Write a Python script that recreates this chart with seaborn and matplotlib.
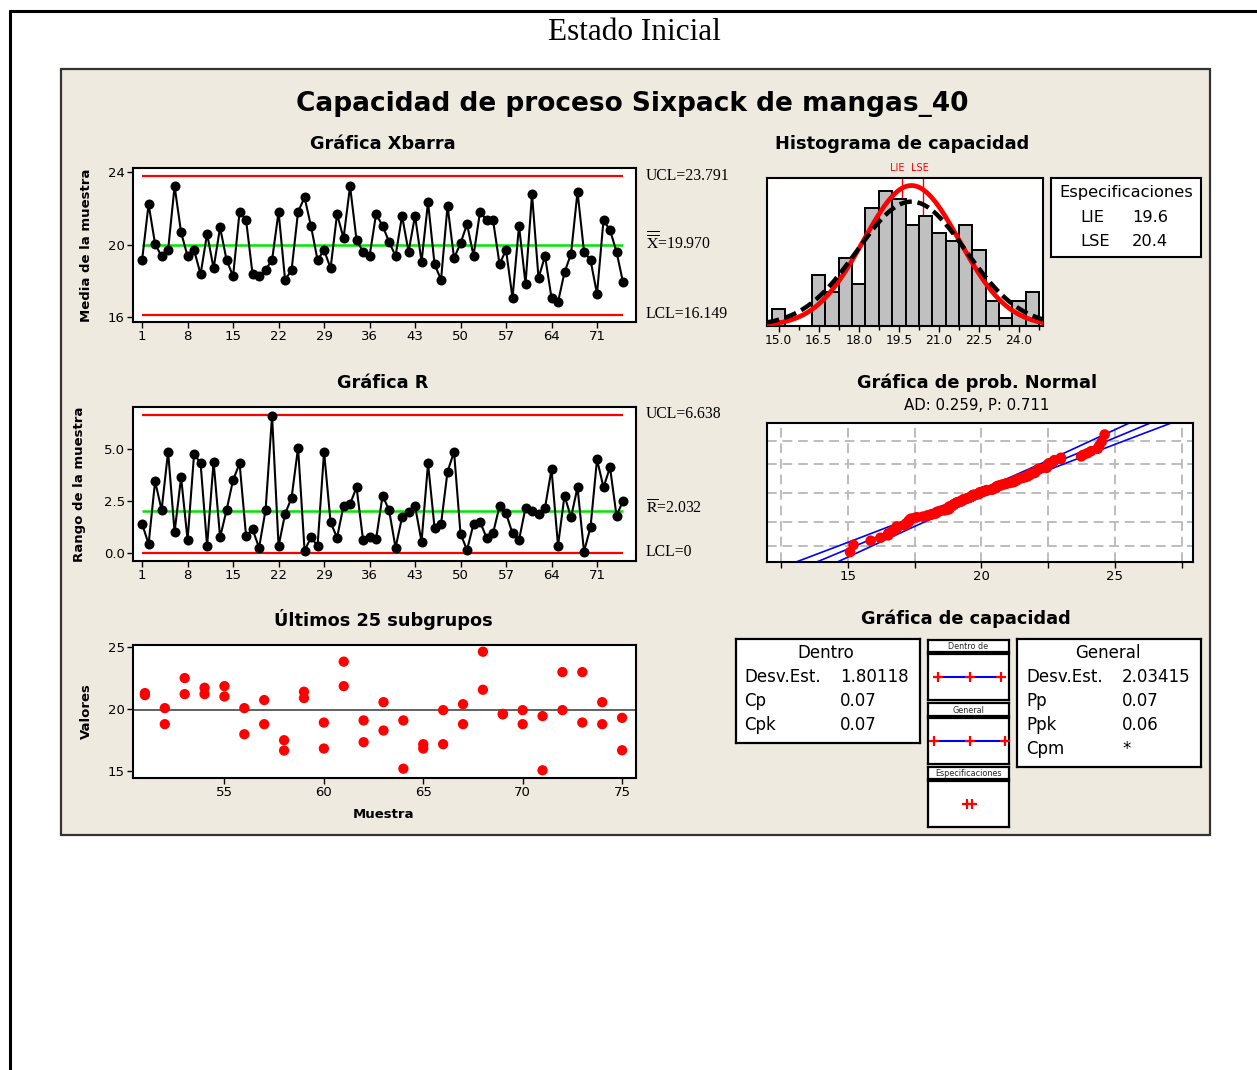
import numpy as np
import pandas as pd
import matplotlib
matplotlib.use("Agg")
import matplotlib.pyplot as plt
import matplotlib.transforms as mtransforms
from matplotlib.patches import Rectangle
from matplotlib.lines import Line2D
import seaborn as sns
from statistics import NormalDist

# ---------------- data ----------------
subgroups = list(range(1, 76))
xbar_means = [19.16, 22.24, 20.04, 19.37, 19.71, 23.23, 20.68, 19.37, 19.71, 18.38,
              20.61, 18.71, 20.96, 19.16, 18.27, 21.82, 21.36, 18.38, 18.27, 18.63,
              19.16, 21.82, 18.07, 18.61, 21.82, 22.61, 21.01, 19.16, 19.71, 18.71,
              21.69, 20.37, 23.23, 20.26, 19.62, 19.37, 21.69, 21.05, 20.17, 19.38,
              21.60, 19.62, 21.60, 19.07, 22.35, 18.94, 18.07, 22.15, 19.27, 20.08,
              21.14, 19.40, 21.82, 21.36, 21.36, 18.94, 19.71, 17.08, 21.05, 17.85,
              22.79, 18.17, 19.38, 17.08, 16.84, 18.49, 19.49, 22.92, 19.62, 19.16,
              17.30, 21.36, 20.81, 19.62, 17.94]
ranges = [1.41, 0.45, 3.46, 2.08, 4.88, 1.02, 3.65, 0.64, 4.78, 4.32,
          0.35, 4.40, 0.77, 2.08, 3.52, 4.32, 0.83, 1.15, 0.27, 2.08,
          6.61, 0.35, 1.89, 2.67, 5.07, 0.13, 0.77, 0.35, 4.88, 1.49,
          0.75, 2.29, 2.37, 3.17, 0.64, 0.77, 0.67, 2.77, 2.08, 0.27,
          1.73, 2.00, 2.27, 0.56, 4.32, 1.23, 1.41, 3.92, 4.88, 0.93,
          0.16, 1.41, 1.52, 0.75, 0.96, 2.27, 1.92, 0.96, 0.64, 2.19,
          2.03, 1.89, 2.19, 4.03, 0.37, 2.77, 1.73, 3.17, 0.08, 1.25,
          4.51, 3.17, 4.13, 1.81, 2.51]
last_subgroups = list(range(51, 76))
last_obs1 = [21.29, 20.08, 22.50, 21.72, 21.85, 20.08, 20.73, 17.50, 21.40, 18.92,
             23.82, 19.09, 20.56, 19.09, 17.18, 19.92, 20.40, 24.62, 19.62, 19.92,
             19.44, 22.98, 22.98, 20.56, 19.30]
last_obs2 = [21.13, 18.79, 21.21, 21.21, 21.02, 17.98, 18.79, 16.67, 20.89, 16.83,
             21.85, 17.34, 18.28, 15.21, 16.83, 17.18, 18.79, 21.56, 19.58, 18.79,
             15.08, 19.92, 18.92, 18.79, 16.69]
hist_mids = [15.0, 15.5, 16.0, 16.5, 17.0, 17.5, 18.0, 18.5, 19.0, 19.5,
             20.0, 20.5, 21.0, 21.5, 22.0, 22.5, 23.0, 23.5, 24.0, 24.5]
hist_counts = [2, 0, 0, 6, 4, 8, 5, 14, 16, 15, 12, 13, 11, 10, 12, 9, 3, 1, 3, 4]
bin_width = 0.5

UCL_X, CL_X, LCL_X = 23.791, 19.970, 16.149
UCL_R, CL_R, LCL_R = 6.638, 2.032, 0.0
LIE, LSE = 19.6, 20.4
sd_within, sd_overall = 1.80118, 2.03415
n_total = 150
xbar_ticks = [1, 8, 15, 22, 29, 36, 43, 50, 57, 64, 71]
hist_ticks = [15.0, 16.5, 18.0, 19.5, 21.0, 22.5, 24.0]
prob_ticks = [12.5, 15, 17.5, 20, 22.5, 25, 27.5]
prob_pcts = [1, 10, 50, 90, 99]
dentro_stats = [("Desv.Est.", "1.80118"), ("Cp", "0.07"), ("Cpk", "0.07")]
general_stats = [("Desv.Est.", "2.03415"), ("Pp", "0.07"), ("Ppk", "0.06"), ("Cpm", "*")]

# ---------------- figure ----------------
sns.set_theme(style="white")
plt.rcParams['font.family'] = ['DejaVu Sans']
plt.rcParams['mathtext.fontset'] = 'stix'

W, H = 1257, 1070
fig = plt.figure(figsize=(W / 100, H / 100), dpi=100)
fig.patch.set_facecolor('white')
BG = '#EEEAE0'


def px_axes(l, t, r, b, z=1):
    ax = fig.add_axes([l / W, 1 - b / H, (r - l) / W, (b - t) / H])
    ax.set_zorder(z)
    return ax


def ftext(x, y, s, **kw):
    kw.setdefault('va', 'center')
    kw.setdefault('ha', 'center')
    kw.setdefault('color', 'black')
    fig.text(x / W, 1 - y / H, s, **kw)


def style_ax(ax, lw=1.5):
    for s in ax.spines.values():
        s.set_visible(True)
        s.set_color('black')
        s.set_linewidth(lw)
    ax.set_facecolor('white')
    ax.tick_params(axis='both', which='both', direction='out', length=4, width=1,
                   color='black', labelsize=9.5, pad=2, labelcolor='black',
                   bottom=True, left=True)
    ax.set_xlabel('')
    ax.set_ylabel('')


# outer page border & panel
fig.add_artist(Line2D([10 / W, 10 / W], [0, 1 - 11 / H], color='black', lw=2.2,
                      transform=fig.transFigure))
fig.add_artist(Line2D([10 / W, 1], [1 - 11 / H, 1 - 11 / H], color='black', lw=2.2,
                      transform=fig.transFigure))
panel = Rectangle((61 / W, 1 - 835 / H), (1210 - 61) / W, (835 - 69) / H,
                  transform=fig.transFigure, facecolor=BG, edgecolor='#333333',
                  lw=1.6, zorder=-5)
fig.add_artist(panel)

ftext(634, 33, "Estado Inicial", fontsize=22.5, family=['Liberation Serif'])
ftext(632, 104, "Capacidad de proceso Sixpack de mangas_40", fontsize=19, weight='bold')

TITLE_FS = 12.8

# ---------------- Xbar chart ----------------
ax1 = px_axes(133, 168, 636, 322)
style_ax(ax1)
sns.lineplot(x=subgroups, y=xbar_means, ax=ax1, color='black', lw=1.5, marker='o',
             markersize=7.2, markeredgewidth=0, zorder=3)
ax1.hlines([UCL_X, LCL_X], subgroups[0], subgroups[-1], colors='#FF0000', lw=1.6, zorder=2)
ax1.hlines(CL_X, subgroups[0], subgroups[-1], colors='#00E600', lw=1.8, zorder=2)
ax1.set_xlim(-0.4, 77)
ax1.set_ylim(15.75, 24.23)
ax1.set_xticks(xbar_ticks)
ax1.set_yticks([16, 20, 24])
ax1.set_xlabel(''); ax1.set_ylabel('')
ftext(383, 144, "Gráfica Xbarra", fontsize=TITLE_FS, weight='bold')
ftext(86, 245, "Media de la muestra", fontsize=9.5, weight='bold', rotation=90)
serif = ['Liberation Serif']
ftext(646, 176, f"UCL={UCL_X:.3f}", fontsize=11.3, ha='left', family=serif)
ftext(646, 243, r"$\overline{\overline{\mathrm{X}}}$" + f"={CL_X:.3f}", fontsize=11.3, ha='left', family=serif)
ftext(646, 314, f"LCL={LCL_X:.3f}", fontsize=11.3, ha='left', family=serif)

# ---------------- R chart ----------------
ax2 = px_axes(133, 407, 636, 561)
style_ax(ax2)
sns.lineplot(x=subgroups, y=ranges, ax=ax2, color='black', lw=1.5, marker='o',
             markersize=7.2, markeredgewidth=0, zorder=3)
ax2.hlines([UCL_R, LCL_R], subgroups[0], subgroups[-1], colors='#FF0000', lw=1.6, zorder=2)
ax2.hlines(CL_R, subgroups[0], subgroups[-1], colors='#00E600', lw=1.8, zorder=2)
ax2.set_xlim(-0.4, 77)
ax2.set_ylim(-0.37, 7.03)
ax2.set_xticks(xbar_ticks)
ax2.set_yticks([0, 2.5, 5.0])
ax2.set_yticklabels(['0.0', '2.5', '5.0'])
ax2.set_xlabel(''); ax2.set_ylabel('')
ftext(383, 383, "Gráfica R", fontsize=TITLE_FS, weight='bold')
ftext(80, 484, "Rango de la muestra", fontsize=9.5, weight='bold', rotation=90)
ftext(646, 414, f"UCL={UCL_R:.3f}", fontsize=11.3, ha='left', family=serif)
ftext(646, 509, r"$\overline{\mathrm{R}}$" + f"={CL_R:.3f}", fontsize=11.3, ha='left', family=serif)
ftext(646, 552, "LCL=0", fontsize=11.3, ha='left', family=serif)

# ---------------- Last 25 subgroups ----------------
ax3 = px_axes(133, 645, 636, 778)
style_ax(ax3)
df_last = pd.DataFrame({'Muestra': last_subgroups * 2, 'Valor': last_obs1 + last_obs2})
ax3.axhline(CL_X, color='#555555', lw=1.3, zorder=1)
sns.scatterplot(data=df_last, x='Muestra', y='Valor', ax=ax3, color='#FF0000', s=55,
                edgecolor='none', zorder=3)
ax3.set_xlim(50.4, 75.7)
ax3.set_ylim(14.46, 25.16)
ax3.set_xticks([55, 60, 65, 70, 75])
ax3.set_yticks([15, 20, 25])
ax3.set_xlabel(''); ax3.set_ylabel('')
ftext(383, 619, "Últimos 25 subgrupos", fontsize=TITLE_FS, weight='bold')
ftext(383, 814, "Muestra", fontsize=9.5, weight='bold')
ftext(86, 711, "Valores", fontsize=9.5, weight='bold', rotation=90)

# ---------------- Capability histogram ----------------
ax4 = px_axes(767, 178, 1043, 326)
style_ax(ax4)
edges = [m - bin_width / 2 for m in hist_mids] + [hist_mids[-1] + bin_width / 2]
ax4.axvline(LIE, color='#FF0000', lw=1, zorder=0.5)
ax4.axvline(LSE, color='#FF0000', lw=1, zorder=0.5)
sns.histplot(x=hist_mids, weights=hist_counts, bins=edges, ax=ax4, color='#C0C0C0',
             edgecolor='black', linewidth=1.4, alpha=1, zorder=1)
xs = np.linspace(14.56, 24.9, 300)
nd_w = NormalDist(CL_X, sd_within)
nd_o = NormalDist(CL_X, sd_overall)
y_w = [n_total * bin_width * nd_w.pdf(v) for v in xs]
y_o = [n_total * bin_width * nd_o.pdf(v) for v in xs]
sns.lineplot(x=xs, y=y_w, ax=ax4, color='#FF0000', lw=3.4, zorder=3)
sns.lineplot(x=xs, y=y_o, ax=ax4, color='black', lw=3.2, dashes=False, zorder=4)
ax4.lines[-1].set_dashes([2.8, 1.3])
ax4.set_xlim(14.56, 24.9)
ax4.set_ylim(0, 17.5)
ax4.set_xticks(hist_ticks)
ax4.set_xticklabels([f"{t:.1f}" for t in hist_ticks])
ax4.set_xticks([t + 0.75 for t in hist_ticks], minor=True)
ax4.tick_params(axis='x', which='minor', length=3)
ax4.set_yticks([])
ax4.set_xlabel(''); ax4.set_ylabel('')
ax4.tick_params(axis='x', labelsize=8.8)
trans = mtransforms.blended_transform_factory(ax4.transData, ax4.transAxes)
ax4.text(LIE - 0.17, 1.065, "LIE", transform=trans, color='#FF0000', fontsize=7, ha='center', va='center')
ax4.text(LSE - 0.1, 1.065, "LSE", transform=trans, color='#FF0000', fontsize=7, ha='center', va='center')
ftext(902, 144, "Histograma de capacidad", fontsize=TITLE_FS, weight='bold')

# spec box
axs = px_axes(1051, 178, 1201, 257)
axs.set_xticks([]); axs.set_yticks([])
for s in axs.spines.values():
    s.set_color('black'); s.set_linewidth(1.5)
axs.set_facecolor('white')
ftext(1126, 193, "Especificaciones", fontsize=11.7)
ftext(1080, 217, "LIE", fontsize=11.7, ha='left')
ftext(1132, 217, f"{LIE}", fontsize=11.7, ha='left')
ftext(1080, 241, "LSE", fontsize=11.7, ha='left')
ftext(1132, 241, f"{LSE}", fontsize=11.7, ha='left')

# ---------------- Normal probability plot ----------------
ax5 = px_axes(767, 423, 1193, 562)
style_ax(ax5)
all_obs = []
for m, r in zip(xbar_means[:50], ranges[:50]):
    all_obs += [m - r / 2, m + r / 2]
all_obs += last_obs1 + last_obs2
data_sorted = np.sort(np.array(all_obs))
n = len(data_sorted)
std_nd = NormalDist()
zq = np.array([std_nd.inv_cdf((i - 0.3) / (n + 0.4)) for i in range(1, n + 1)])
mu = data_sorted.mean()
sd = data_sorted.std(ddof=1)
for p in prob_pcts:
    ax5.axhline(std_nd.inv_cdf(p / 100), color='#BDBDBD', lw=1.4, ls=(0, (5, 3)), zorder=0)
for t in prob_ticks:
    ax5.axvline(t, color='#BDBDBD', lw=1.4, ls=(0, (5, 3)), zorder=0)
zz = np.linspace(-3.3, 3.3, 200)
fit = mu + sd * zz
half = 1.96 * sd * np.sqrt((1 + zz ** 2 / 2) / n)
sns.lineplot(x=fit, y=zz, ax=ax5, color='#0000FF', lw=1.2, sort=False, zorder=2)
sns.lineplot(x=fit - half, y=zz, ax=ax5, color='#0000FF', lw=1.2, sort=False, zorder=2)
sns.lineplot(x=fit + half, y=zz, ax=ax5, color='#0000FF', lw=1.2, sort=False, zorder=2)
sns.scatterplot(x=data_sorted, y=zq, ax=ax5, color='#FF0000', s=58, edgecolor='none', zorder=3)
ax5.set_xlim(11.97, 27.93)
ax5.set_ylim(-3.04, 3.11)
ax5.set_xticks(prob_ticks)
ax5.set_xticklabels(['' if t not in (15, 20, 25) else f"{int(t)}" for t in prob_ticks])
ax5.set_yticks([])
ax5.set_xlabel(''); ax5.set_ylabel('')
ftext(977, 383, "Gráfica de prob. Normal", fontsize=TITLE_FS, weight='bold')
ftext(977, 405, "AD: 0.259, P: 0.711", fontsize=10.8)

# ---------------- Capability plot ----------------
ftext(966, 619, "Gráfica de capacidad", fontsize=TITLE_FS, weight='bold')


def box_axes(l, t, r, b):
    a = px_axes(l, t, r, b)
    a.set_xticks([]); a.set_yticks([])
    a.set_facecolor('white')
    for s in a.spines.values():
        s.set_visible(True); s.set_color('black'); s.set_linewidth(1.6)
    return a


box_axes(736, 639, 920, 743)
ftext(826, 653, "Dentro", fontsize=12)
for i, (k, v) in enumerate(dentro_stats):
    ftext(744, 677 + 24 * i, k, fontsize=12, ha='left')
    ftext(840, 677 + 24 * i, v, fontsize=12, ha='left')

box_axes(1017, 639, 1201, 767)
ftext(1108, 653, "General", fontsize=12)
for i, (k, v) in enumerate(general_stats):
    ftext(1026, 677 + 24 * i, k, fontsize=12, ha='left')
    ftext(1122, 677 + 24 * i, v, fontsize=12, ha='left')

cap_xlim = (CL_X - 7.2, CL_X + 6.85)
headers = [("Dentro de", 640, 652, 654, 700),
           ("General", 703, 716, 718, 764),
           ("Especificaciones", 767, 779, 781, 827)]
intervals = [[CL_X - 3 * sd_within, CL_X, CL_X + 3 * sd_within],
             [CL_X - 3 * sd_overall, CL_X, CL_X + 3 * sd_overall],
             [LIE, LSE]]
for (label, ht, hb, pt, pb), pts in zip(headers, intervals):
    ah = box_axes(928, ht, 1009, hb)
    ah.text(0.5, 0.45, label, transform=ah.transAxes, ha='center', va='center', fontsize=5.8)
    ap = box_axes(928, pt, 1009, pb)
    yv = [0] * len(pts)
    if len(pts) == 3:
        sns.lineplot(x=pts, y=yv, ax=ap, color='#0000FF', lw=1.5, zorder=2)
    sns.scatterplot(x=pts, y=yv, ax=ap, color='#FF0000', marker='+', s=55,
                    linewidth=1.6, zorder=3)
    ap.set_xlim(*cap_xlim)
    ap.set_ylim(-1, 1)
    ap.set_xticks([]); ap.set_yticks([])
    ap.set_xlabel(''); ap.set_ylabel('')

fig.savefig("out.png", dpi=100, facecolor='white')
